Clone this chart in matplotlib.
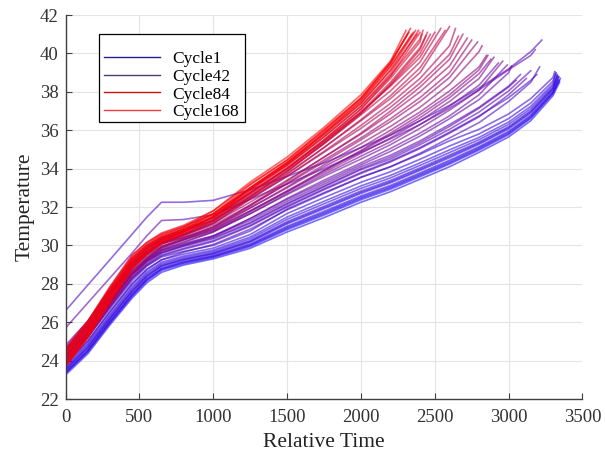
import matplotlib
matplotlib.use('Agg')
import matplotlib.pyplot as plt
from matplotlib.lines import Line2D
from matplotlib.patches import Rectangle

plt.rcParams['font.family'] = ['Liberation Serif', 'DejaVu Serif']

# sample times shared by every discharge curve
grid_t = [0, 150, 300, 450, 550, 650, 800, 1000, 1250, 1500, 1750,
          2000, 2200, 2400, 2600, 2800, 3000, 3150, 3300]

# early cycles - longest runs, lowest temperatures
blue_cycles = [1, 4, 7, 10, 13, 16, 19, 22, 25, 28, 31, 34]
blue_temps = [
    [23.36, 24.48, 25.98, 27.39, 28.2, 28.75, 29.1, 29.41, 29.99, 30.88, 31.65, 32.45, 33.0, 33.65, 34.3, 35.03, 35.83, 36.67, 37.94],
    [23.25, 24.35, 25.85, 27.25, 28.05, 28.6, 28.98, 29.3, 29.85, 30.7, 31.45, 32.25, 32.8, 33.45, 34.1, 34.85, 35.65, 36.5, 37.8],
    [23.51, 24.65, 26.15, 27.57, 28.37, 28.9, 29.24, 29.55, 30.17, 31.12, 31.91, 32.71, 33.26, 33.91, 34.57, 35.27, 36.07, 36.9, 38.13],
    [23.33, 24.44, 25.94, 27.34, 28.15, 28.7, 29.05, 29.37, 29.94, 30.82, 31.58, 32.38, 32.93, 33.58, 34.24, 34.97, 35.77, 36.62, 37.9],
    [23.66, 24.82, 26.32, 27.75, 28.54, 29.05, 29.38, 29.69, 30.35, 31.36, 32.17, 32.97, 33.52, 34.17, 34.84, 35.51, 36.31, 37.13, 38.32],
    [23.44, 24.56, 26.06, 27.48, 28.28, 28.82, 29.17, 29.48, 30.08, 31.0, 31.78, 32.58, 33.13, 33.78, 34.44, 35.15, 35.95, 36.79, 38.04],
    [23.85, 25.03, 26.53, 27.97, 28.75, 29.25, 29.55, 29.86, 30.57, 31.66, 32.49, 33.29, 33.84, 34.49, 35.18, 35.81, 36.61, 37.42, 38.56],
    [23.55, 24.69, 26.19, 27.61, 28.41, 28.94, 29.27, 29.58, 30.21, 31.18, 31.97, 32.77, 33.32, 33.97, 34.64, 35.33, 36.13, 36.96, 38.18],
    [23.74, 24.9, 26.4, 27.84, 28.62, 29.13, 29.45, 29.76, 30.44, 31.48, 32.3, 33.1, 33.65, 34.3, 34.98, 35.63, 36.43, 37.25, 38.42],
    [23.4, 24.52, 26.02, 27.43, 28.24, 28.78, 29.13, 29.44, 30.03, 30.94, 31.71, 32.51, 33.06, 33.71, 34.37, 35.09, 35.89, 36.73, 37.99],
    [24.0, 25.2, 26.7, 28.15, 28.92, 29.4, 29.69, 30.0, 30.75, 31.9, 32.75, 33.55, 34.1, 34.75, 35.45, 36.05, 36.85, 37.65, 38.75],
    [23.59, 24.73, 26.23, 27.66, 28.45, 28.98, 29.31, 29.62, 30.26, 31.24, 32.04, 32.84, 33.39, 34.04, 34.71, 35.39, 36.19, 37.02, 38.23],
]
blue_end_t = [3350, 3345, 3340, 3335, 3330, 3338, 3322, 3328, 3318, 3344, 3312, 3332]
blue_end_T = [38.7, 38.5, 38.8, 38.6, 38.9, 38.75, 39.0, 38.85, 38.95, 38.6, 39.05, 38.8]

violet_cycles = [38, 41, 44, 47, 50, 53]
violet_temps = [
    [24.15, 25.35, 26.9, 28.3, 29.0, 29.5, 29.85, 30.25, 31.05, 32.05, 32.95, 33.8, 34.4, 35.1, 35.9, 36.75, 37.7, 38.6],
    [23.8, 25.0, 26.55, 28.0, 28.75, 29.25, 29.65, 30.05, 30.85, 31.85, 32.7, 33.55, 34.1, 34.8, 35.6, 36.4, 37.5, 38.5],
    [24.3, 25.5, 27.0, 28.45, 29.15, 29.6, 29.95, 30.35, 31.15, 32.15, 33.05, 33.95, 34.5, 35.25, 36.05, 36.95, 38.05],
    [24.1, 25.3, 26.8, 28.25, 28.95, 29.45, 29.8, 30.2, 31.0, 32.0, 32.9, 33.75, 34.35, 35.05, 35.85, 36.7, 37.85],
    [24.5, 25.7, 27.2, 28.65, 29.3, 29.75, 30.1, 30.5, 31.3, 32.3, 33.2, 34.1, 34.7, 35.45, 36.3, 37.2, 38.3],
    [24.3, 25.5, 27.05, 28.5, 29.2, 29.65, 30.0, 30.4, 31.2, 32.2, 33.1, 34.0, 34.6, 35.35, 36.2, 37.15, 38.25],
]
violet_end_t = [3190, 3210, 3150, 3120, 3080, 3050]
violet_end_T = [38.9, 39.3, 39.1, 38.7, 38.9, 38.6]

purple_cycles = [57, 61, 65, 69, 73, 77, 81, 84]
purple_temps = [
    [24.3, 25.5, 27.05, 28.5, 29.2, 29.7, 30.05, 30.5, 31.4, 32.4, 33.3, 34.2, 34.9, 35.7, 36.6, 37.6, 39.0],
    [24.0, 25.25, 26.8, 28.3, 29.05, 29.6, 30.0, 30.45, 31.4, 32.45, 33.4, 34.3, 35.05, 35.85, 36.75, 37.85],
    [24.6, 25.85, 27.4, 28.85, 29.5, 29.95, 30.3, 30.75, 31.65, 32.65, 33.6, 34.5, 35.25, 36.1, 37.05, 38.1],
    [24.2, 25.45, 27.0, 28.5, 29.25, 29.8, 30.2, 30.7, 31.65, 32.7, 33.7, 34.65, 35.4, 36.3, 37.25, 38.35],
    [24.8, 26.05, 27.6, 29.05, 29.65, 30.1, 30.4, 30.85, 31.8, 32.8, 33.8, 34.8, 35.6, 36.5, 37.5, 38.7],
    [24.4, 25.65, 27.2, 28.7, 29.4, 29.9, 30.3, 30.8, 31.8, 32.85, 33.9, 34.9, 35.75, 36.65, 37.7, 38.95],
    [23.9, 25.2, 26.8, 28.35, 29.15, 29.75, 30.15, 30.7, 31.75, 32.8, 33.9, 34.95, 35.85, 36.8, 37.85, 39.15],
    [24.5, 25.8, 27.4, 28.9, 29.6, 30.1, 30.45, 30.95, 31.95, 33.0, 34.1, 35.1, 36.0, 36.95, 38.05, 39.3],
]
purple_end_t = [3020, 2990, 2960, 2930, 2900, 2880, 2860, 2850]
purple_end_T = [39.35, 39.4, 39.6, 39.5, 39.8, 39.7, 39.9, 39.9]

mauve_cycles = [88, 92, 96, 100, 104, 108]
mauve_temps = [
    [24.1, 25.4, 27.0, 28.55, 29.3, 29.85, 30.3, 30.85, 31.95, 33.05, 34.2, 35.3, 36.2, 37.2, 38.4, 40.1],
    [24.6, 25.9, 27.5, 29.0, 29.7, 30.15, 30.55, 31.05, 32.1, 33.2, 34.35, 35.5, 36.45, 37.5, 38.75],
    [24.0, 25.35, 27.0, 28.6, 29.35, 29.95, 30.4, 30.95, 32.05, 33.25, 34.45, 35.6, 36.6, 37.7, 39.0],
    [24.4, 25.75, 27.4, 28.95, 29.7, 30.2, 30.6, 31.15, 32.25, 33.4, 34.6, 35.8, 36.85, 38.0, 39.35],
    [23.8, 25.2, 26.9, 28.5, 29.3, 29.9, 30.35, 30.95, 32.1, 33.35, 34.6, 35.85, 37.0, 38.25, 39.7],
    [24.7, 26.05, 27.7, 29.25, 29.95, 30.4, 30.75, 31.3, 32.45, 33.6, 34.85, 36.1, 37.2, 38.45, 39.95],
]
mauve_end_t = [2820, 2790, 2750, 2720, 2690, 2660]
mauve_end_T = [40.4, 40.6, 40.7, 40.8, 41.0, 40.9]

magenta_cycles = [112, 116, 120, 124, 128, 132]
magenta_temps = [
    [24.2, 25.6, 27.3, 28.9, 29.6, 30.1, 30.55, 31.15, 32.4, 33.6, 34.9, 36.25, 37.4, 38.7, 40.4],
    [24.5, 25.9, 27.6, 29.2, 29.85, 30.3, 30.7, 31.3, 32.55, 33.75, 35.1, 36.5, 37.65, 39.0],
    [23.9, 25.35, 27.1, 28.75, 29.5, 30.05, 30.5, 31.15, 32.45, 33.7, 35.1, 36.55, 37.8, 39.25],
    [24.3, 25.75, 27.5, 29.1, 29.8, 30.3, 30.75, 31.35, 32.65, 33.9, 35.3, 36.8, 38.05, 39.55],
    [24.6, 26.0, 27.75, 29.35, 30.0, 30.45, 30.85, 31.45, 32.75, 34.0, 35.45, 36.95, 38.3, 39.8],
    [24.0, 25.45, 27.2, 28.85, 29.6, 30.15, 30.6, 31.25, 32.55, 33.85, 35.35, 36.9, 38.35, 40.0],
]
magenta_end_t = [2640, 2600, 2570, 2540, 2500, 2470]
magenta_end_T = [41.3, 41.4, 41.2, 41.3, 41.1, 41.0]

# late cycles - shortest runs, hottest
red_cycles = [134, 137, 140, 143, 146, 149, 152, 155, 158, 160, 162, 164, 166, 168]
red_temps = [
    [24.3, 25.75, 27.55, 29.2, 29.9, 30.4, 30.85, 31.45, 32.75, 34.0, 35.4, 36.95, 38.5, 40.3],
    [23.8, 25.25, 27.1, 28.8, 29.55, 30.1, 30.55, 31.25, 32.55, 33.85, 35.3, 36.85, 38.4, 40.2],
    [24.1, 25.55, 27.4, 29.1, 29.8, 30.3, 30.75, 31.45, 32.75, 34.05, 35.5, 37.1, 38.7, 40.6],
    [24.6, 26.05, 27.85, 29.5, 30.15, 30.6, 31.0, 31.65, 32.95, 34.2, 35.65, 37.25, 38.85, 40.75],
    [23.7, 25.2, 27.05, 28.8, 29.55, 30.1, 30.6, 31.35, 32.7, 34.0, 35.5, 37.1, 38.8],
    [24.0, 25.5, 27.35, 29.05, 29.8, 30.3, 30.75, 31.5, 32.85, 34.15, 35.65, 37.25, 38.95],
    [24.4, 25.9, 27.7, 29.35, 30.05, 30.55, 30.95, 31.65, 33.0, 34.3, 35.8, 37.4, 39.1],
    [23.9, 25.4, 27.25, 28.95, 29.7, 30.25, 30.7, 31.5, 32.9, 34.2, 35.75, 37.4, 39.15],
    [24.2, 25.7, 27.5, 29.2, 29.9, 30.4, 30.85, 31.6, 33.0, 34.3, 35.85, 37.5, 39.3],
    [23.8, 25.3, 27.15, 28.9, 29.65, 30.2, 30.7, 31.5, 32.95, 34.25, 35.85, 37.55, 39.35],
    [24.5, 26.0, 27.8, 29.45, 30.15, 30.65, 31.05, 31.8, 33.2, 34.45, 36.0, 37.65, 39.45],
    [24.0, 25.5, 27.35, 29.1, 29.85, 30.4, 30.85, 31.65, 33.15, 34.45, 36.05, 37.7, 39.55],
    [23.7, 25.2, 27.1, 28.85, 29.6, 30.2, 30.7, 31.5, 33.0, 34.35, 35.95, 37.65, 39.5],
    [24.3, 25.8, 27.6, 29.3, 30.0, 30.5, 30.95, 31.8, 33.3, 34.6, 36.15, 37.85, 39.6],
]
red_end_t = [2450, 2440, 2420, 2410, 2400, 2390, 2380, 2370, 2355, 2345, 2335, 2325, 2315, 2305]
red_end_T = [41.1, 40.9, 41.2, 41.0, 41.1, 41.2, 41.0, 41.2, 41.1, 41.0, 41.3, 41.1, 41.0, 41.2]

# two runs that started warm
warm_cycles = [36, 56]
warm_temps = [
    [26.6, 27.93, 29.25, 30.58, 31.47, 32.25, 32.25, 32.35, 32.9, 33.6, 34.3, 35.1, 35.75, 36.5, 37.3, 38.2, 39.2, 40.1],
    [25.7, 27.0, 28.3, 29.6, 30.5, 31.3, 31.35, 31.6, 32.4, 33.2, 34.0, 34.85, 35.55, 36.3, 37.15, 38.1, 39.15, 39.9],
]
warm_end_t = [3225, 3180]
warm_end_T = [40.7, 40.2]

legend_labels = ['Cycle1', 'Cycle42', 'Cycle84', 'Cycle168']
legend_colors = ['#1f1f8f', '#4d3d6d', '#cc1111', '#f03a3a']

n_cycles = 168


def cycle_color(c):
    f = (c - 1) / (n_cycles - 1)
    return (0.1 + 0.9 * f, 0.05 * (1 - f), 1.0 * (1 - f))


groups = [
    (blue_cycles, blue_temps, blue_end_t, blue_end_T),
    (violet_cycles, violet_temps, violet_end_t, violet_end_T),
    (purple_cycles, purple_temps, purple_end_t, purple_end_T),
    (mauve_cycles, mauve_temps, mauve_end_t, mauve_end_T),
    (magenta_cycles, magenta_temps, magenta_end_t, magenta_end_T),
    (red_cycles, red_temps, red_end_t, red_end_T),
    (warm_cycles, warm_temps, warm_end_t, warm_end_T),
]

curves = []
for cyc, rows, ets, eTs in groups:
    for c, row, et, eT in zip(cyc, rows, ets, eTs):
        curves.append((c, grid_t[:len(row)] + [et], row + [eT]))
curves.sort(key=lambda x: x[0])

fig = plt.figure(figsize=(6.05, 4.57), dpi=100)
ax = fig.add_axes([0.1083, 0.1269, 0.8545, 0.8401])

for c, t, temp in curves:
    ax.plot(t, temp, color=cycle_color(c), lw=1.2, alpha=0.6)

ax.set_xlim(0, 3500)
ax.set_ylim(22, 42)
ax.set_xticks(range(0, 3501, 500))
ax.set_yticks(range(22, 43, 2))
ax.grid(True, color='#e4e4e4', lw=0.8)
ax.set_axisbelow(True)
for side in ['top', 'right']:
    ax.spines[side].set_visible(False)
for side in ['left', 'bottom']:
    ax.spines[side].set_color('#404040')
    ax.spines[side].set_linewidth(1.0)
ax.tick_params(direction='in', length=4, width=0.8, color='#404040',
               labelcolor='#333333', labelsize=13.5)
ax.tick_params(axis='x', pad=7)
ax.tick_params(axis='y', pad=5)
ax.set_xlabel('Relative Time', fontsize=15.5, color='#222222', labelpad=5)
ax.set_ylabel('Temperature', fontsize=15.5, color='#222222', labelpad=4)

# legend box drawn by hand so the padding can be uneven
ax.add_patch(Rectangle((0.065, 0.721), 0.282, 0.229, transform=ax.transAxes,
                       facecolor='white', edgecolor='black', lw=0.9, zorder=4))
handles = [Line2D([], [], color=col, lw=1.0) for col in legend_colors]
ax.legend(handles, legend_labels, loc='upper left', bbox_to_anchor=(0.065, 0.921),
          frameon=False, fontsize=12.5, handlelength=3.2, handletextpad=0.7,
          labelspacing=0.1, borderpad=0.3, borderaxespad=0.0)

fig.savefig('out.png', dpi=100)
